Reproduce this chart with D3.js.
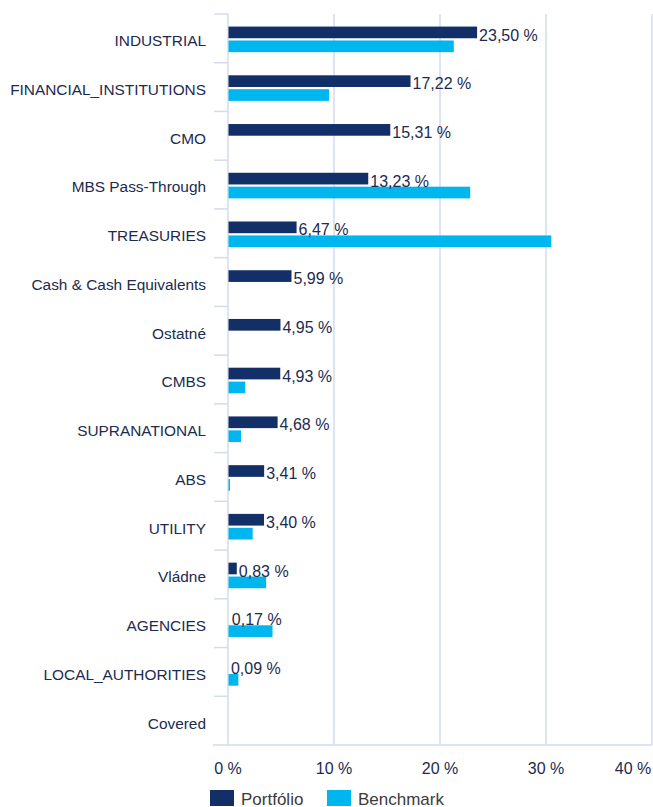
<!doctype html>
<html>
  <head>
    <meta charset='utf-8'>
    <title>Portfolio vs Benchmark</title>
    <style>
      body { margin: 0; background: #fff; }
      text { font-family: 'Liberation Sans', Arial, sans-serif; }
    </style>
  </head>
  <body>
    <svg width='653' height='807'></svg>

  <script src='https://d3js.org/d3.v7.min.js'></script>
  <script>
// Chart data.
var categories = ['INDUSTRIAL', 'FINANCIAL_INSTITUTIONS', 'CMO', 'MBS Pass-Through',
  'TREASURIES', 'Cash & Cash Equivalents', 'Ostatné', 'CMBS', 'SUPRANATIONAL',
  'ABS', 'UTILITY', 'Vládne', 'AGENCIES', 'LOCAL_AUTHORITIES', 'Covered'];
var portfolio = [23.50, 17.22, 15.31, 13.23, 6.47, 5.99, 4.95, 4.93, 4.68,
  3.41, 3.40, 0.83, 0.17, 0.09, null];
var benchmark = [21.3, 9.53, null, 22.85, 30.5, null, null, 1.63, 1.23,
  0.19, 2.33, 3.6, 4.2, 0.98, null];
var seriesNames = ['Portfólio', 'Benchmark'];
var xTicks = [0, 10, 20, 30, 40];

var navy = '#132f68', cyan = '#00b6ef', grid = '#d3dceb', ink = '#1c2b4f';

var svg = d3.select('svg'),
  margin = {top: 14, left: 228, right: 1, bottom: 62},
  width = +svg.attr('width'),
  height = +svg.attr('height'),
  plotBottom = height - margin.bottom,
  plotRight = width - margin.right;

var x = d3.scaleLinear().domain([0, 40]).range([margin.left, plotRight]);
var y = d3.scaleBand().domain(categories).range([margin.top, plotBottom]);
var inner = d3.scaleBand().domain(seriesNames).range([0, 25.6]).paddingInner(0.16);
var groupOffset = (y.bandwidth() - 25.6) / 2 + 1;

// vertical gridlines (including the 0 axis)
svg.append('g').selectAll('line')
  .data(xTicks)
  .join('line')
  .attr('x1', function(d) { return x(d); })
  .attr('x2', function(d) { return x(d); })
  .attr('y1', margin.top)
  .attr('y2', plotBottom)
  .attr('stroke', grid)
  .attr('stroke-width', 1.5);

// category separators on the left
var bounds = categories.map(function(c) { return y(c); });
svg.append('g').selectAll('line')
  .data(bounds)
  .join('line')
  .attr('x1', margin.left - 14)
  .attr('x2', margin.left)
  .attr('y1', function(d) { return d; })
  .attr('y2', function(d) { return d; })
  .attr('stroke', grid)
  .attr('stroke-width', 1.5);

// bottom axis line
svg.append('line')
  .attr('x1', margin.left - 15).attr('x2', plotRight)
  .attr('y1', plotBottom).attr('y2', plotBottom)
  .attr('stroke', grid).attr('stroke-width', 1.5);

// x tick labels
svg.append('g').selectAll('text')
  .data(xTicks)
  .join('text')
  .attr('x', function(d) { return d === 40 ? x(d) - 19 : x(d); })
  .attr('y', plotBottom + 29)
  .attr('text-anchor', 'middle')
  .attr('fill', ink)
  .style('font-size', '16px')
  .text(function(d) { return d + ' %'; });

// category labels
svg.append('g').selectAll('text')
  .data(categories)
  .join('text')
  .attr('x', margin.left - 22)
  .attr('y', function(d) { return y(d) + y.bandwidth() / 2 + 2.5; })
  .attr('dy', '0.35em')
  .attr('text-anchor', 'end')
  .attr('fill', ink)
  .style('font-size', '15.4px')
  .text(function(d) { return d; });

// bars
var rows = categories.map(function(c, i) {
  return {cat: c, values: [
    {key: seriesNames[0], value: portfolio[i]},
    {key: seriesNames[1], value: benchmark[i]}
  ]};
});

var groups = svg.append('g').selectAll('g')
  .data(rows)
  .join('g')
  .attr('transform', function(d) { return 'translate(0,' + (y(d.cat) + groupOffset) + ')'; });

groups.selectAll('rect')
  .data(function(d) {
    return d.values.filter(function(v) { return v.value != null && x(v.value) - x(0) >= 2; });
  })
  .join('rect')
  .attr('x', x(0) + 0.5)
  .attr('y', function(d) { return inner(d.key); })
  .attr('width', function(d) { return x(d.value) - x(0) - 0.5; })
  .attr('height', inner.bandwidth())
  .attr('fill', function(d) { return d.key === seriesNames[0] ? navy : cyan; });

// value labels for portfolio
groups.filter(function(d) { return d.values[0].value != null; })
  .append('text')
  .attr('x', function(d) { return x(d.values[0].value) + 2; })
  .attr('y', inner(seriesNames[0]) + inner.bandwidth() / 2 + 2.5)
  .attr('dy', '0.35em')
  .attr('fill', ink)
  .style('font-size', '16px')
  .text(function(d) { return d.values[0].value.toFixed(2).replace('.', ',') + ' %'; });

// legend
var legend = svg.append('g').attr('transform', 'translate(210,790)');
var items = legend.selectAll('g')
  .data(seriesNames)
  .join('g')
  .attr('transform', function(d, i) { return 'translate(' + (i * 117) + ',0)'; });
items.append('rect')
  .attr('width', 24).attr('height', 16)
  .attr('fill', function(d, i) { return i === 0 ? navy : cyan; });
items.append('text')
  .attr('x', 31).attr('y', 9)
  .attr('dy', '0.35em')
  .attr('fill', '#3c3c3c')
  .style('font-size', '17px')
  .text(function(d) { return d; });
  </script>
  </body>
</html>
